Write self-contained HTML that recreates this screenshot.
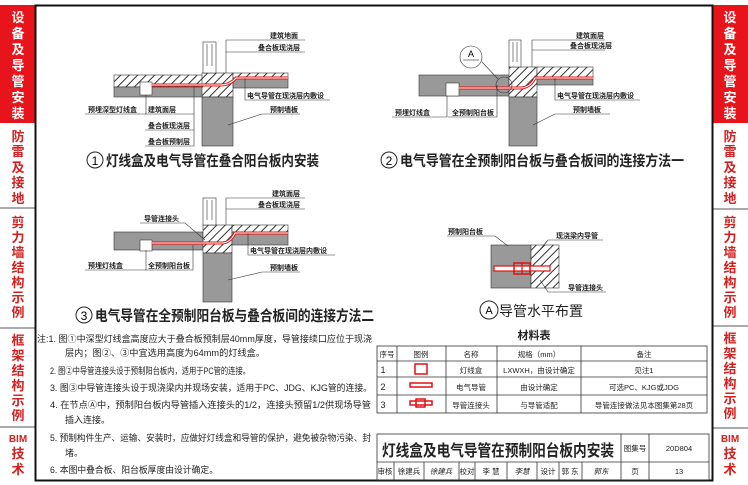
<!DOCTYPE html>
<html><head><meta charset="utf-8"><style>
body{margin:0;width:748px;height:485px;background:#fff;overflow:hidden;font-family:"Liberation Sans","Noto Sans CJK SC",sans-serif;}
svg{position:absolute;left:0;top:0}
</style></head><body>
<svg width="748" height="485" viewBox="0 0 748 485" xmlns="http://www.w3.org/2000/svg" font-family="Liberation Sans, Noto Sans CJK SC, sans-serif">
<defs>
<pattern id="h" width="6" height="6" patternUnits="userSpaceOnUse" patternTransform="rotate(45)">
<rect width="6" height="6" fill="#fff"/><line x1="0" y1="0" x2="0" y2="6" stroke="#333" stroke-width="2"/></pattern>
</defs>
<!-- sidebars -->
<rect x="0" y="5" width="35" height="118" fill="#e8141b"/>
<rect x="713" y="5" width="35" height="118" fill="#e8141b"/>
<g font-size="13" font-weight="bold" text-anchor="middle">
<g fill="#fff">
<text x="18" y="22">设</text><text x="18" y="38">备</text><text x="18" y="54">及</text><text x="18" y="70">导</text><text x="18" y="86">管</text><text x="18" y="102">安</text><text x="18" y="118">装</text>
<text x="730" y="22">设</text><text x="730" y="38">备</text><text x="730" y="54">及</text><text x="730" y="70">导</text><text x="730" y="86">管</text><text x="730" y="102">安</text><text x="730" y="118">装</text>
</g>
<g fill="#d42020">
<text x="18" y="141">防</text><text x="18" y="156">雷</text><text x="18" y="172">及</text><text x="18" y="187">接</text><text x="18" y="203">地</text>
<text x="730" y="141">防</text><text x="730" y="156">雷</text><text x="730" y="172">及</text><text x="730" y="187">接</text><text x="730" y="203">地</text>
<text x="18" y="227">剪</text><text x="18" y="242">力</text><text x="18" y="257">墙</text><text x="18" y="272">结</text><text x="18" y="287">构</text><text x="18" y="302">示</text><text x="18" y="317">例</text>
<text x="730" y="227">剪</text><text x="730" y="242">力</text><text x="730" y="257">墙</text><text x="730" y="272">结</text><text x="730" y="287">构</text><text x="730" y="302">示</text><text x="730" y="317">例</text>
<text x="18" y="345">框</text><text x="18" y="360">架</text><text x="18" y="375">结</text><text x="18" y="390">构</text><text x="18" y="405">示</text><text x="18" y="420">例</text>
<text x="730" y="343">框</text><text x="730" y="358">架</text><text x="730" y="373">结</text><text x="730" y="388">构</text><text x="730" y="403">示</text><text x="730" y="418">例</text>
<text x="18" y="442" font-size="10">BIM</text><text x="18" y="458">技</text><text x="18" y="474">术</text>
<text x="730" y="442" font-size="10">BIM</text><text x="730" y="458">技</text><text x="730" y="474">术</text>
</g>
</g>
<g stroke="#555" stroke-width="1">
<line x1="0" y1="208" x2="35" y2="208"/><line x1="0" y1="328" x2="35" y2="328"/><line x1="0" y1="427" x2="35" y2="427"/>
<line x1="713" y1="209" x2="748" y2="209"/><line x1="713" y1="326" x2="748" y2="326"/><line x1="713" y1="428" x2="748" y2="428"/>
</g>
<rect x="35.5" y="5.5" width="677" height="475" fill="none" stroke="#111" stroke-width="2"/>

<!-- Fig 1 -->
<g stroke="#333" stroke-width="0.6">
<rect x="114" y="75" width="89" height="12" fill="url(#h)"/>
<rect x="114" y="87" width="89" height="10" fill="#999"/>
<rect x="202" y="73" width="31" height="24" fill="url(#h)"/>
<rect x="202" y="97" width="31" height="49" fill="#999"/>
<rect x="233" y="73" width="55" height="5" fill="url(#h)"/>
<rect x="233" y="78" width="55" height="10" fill="#999"/>
<rect x="203" y="42" width="13" height="31" fill="#fff"/>
<line x1="207" y1="44" x2="207" y2="66"/><line x1="212" y1="44" x2="212" y2="66"/>
<rect x="140" y="82" width="12" height="13" fill="#fff"/>
</g>
<path d="M152 85 H220 Q230 85 236 78 H288" stroke="#e01010" stroke-width="3" fill="none"/>
<path d="M152 85 H220 Q230 85 236 78 H288" stroke="#fff" stroke-width="1" fill="none"/>
<g stroke="#333" stroke-width="0.6" fill="none">
<polyline points="226,73 226,40 305,40"/><line x1="226" y1="52" x2="305" y2="52"/>
<polyline points="245,78 245,100 330,100"/>
<line x1="228" y1="125" x2="262" y2="114"/><line x1="262" y1="114" x2="300" y2="114"/>
<polyline points="146,95 146,114 85,114"/>
<polyline points="194,87 194,146 145,146"/><line x1="145" y1="114" x2="194" y2="114"/><line x1="145" y1="130" x2="194" y2="130"/>
</g>
<g font-size="7" fill="#222" font-weight="bold">
<text x="270" y="38">建筑地面</text><text x="258" y="50">叠合板现浇层</text><text x="247" y="98">电气导管在现浇层内敷设</text>
<text x="270" y="112">预制墙板</text><text x="88" y="112">预埋深型灯线盒</text>
<text x="148" y="112">建筑面层</text><text x="148" y="128">叠合板现浇层</text><text x="148" y="144">叠合板预制层</text>
</g>
<circle cx="95" cy="160" r="8" fill="none" stroke="#222" stroke-width="1"/>
<text x="95" y="165" font-size="12" text-anchor="middle">1</text>
<text x="106" y="166" font-size="14.5" font-weight="bold" fill="#222" textLength="213" lengthAdjust="spacingAndGlyphs">灯线盒及电气导管在叠合阳台板内安装</text>

<!-- Fig 2 -->
<g stroke="#333" stroke-width="0.6">
<rect x="419" y="75" width="90" height="21" fill="#999"/>
<rect x="509" y="67" width="28" height="30" fill="url(#h)"/>
<rect x="509" y="97" width="28" height="49" fill="#999"/>
<rect x="537" y="67" width="56" height="10" fill="url(#h)"/>
<rect x="537" y="77" width="56" height="8" fill="#999"/>
<rect x="509" y="40" width="12" height="27" fill="#fff"/>
<line x1="513" y1="42" x2="513" y2="62"/><line x1="517" y1="42" x2="517" y2="62"/>
<rect x="446" y="83" width="13" height="13" fill="#fff"/>
</g>
<path d="M459 88 H520 Q530 88 535 78 H593" stroke="#e01010" stroke-width="3" fill="none"/>
<path d="M459 88 H520 Q530 88 535 78 H593" stroke="#fff" stroke-width="1" fill="none"/>
<g stroke="#333" stroke-width="0.6" fill="none">
<circle cx="471" cy="57" r="11"/><line x1="463" y1="60" x2="479" y2="60"/>
<circle cx="504" cy="85" r="8"/><line x1="482" y1="62" x2="498" y2="79"/>
<polyline points="532,67 532,40 605,40"/><line x1="532" y1="50" x2="605" y2="50"/>
<polyline points="555,78 555,100 640,100"/>
<line x1="533" y1="125" x2="555" y2="114"/><line x1="555" y1="114" x2="610" y2="114"/>
<polyline points="447,96 447,117 392,117"/><polyline points="497,85 497,117 448,117"/>
</g>
<g font-size="7" fill="#222" font-weight="bold">
<text x="576" y="38">建筑面层</text><text x="570" y="48">叠合板现浇层</text><text x="557" y="98">电气导管在现浇层内敷设</text>
<text x="573" y="112">预制墙板</text><text x="395" y="115">预埋灯线盒</text><text x="452" y="115">全预制阳台板</text>
</g>
<text x="471" y="57" font-size="9" text-anchor="middle">A</text>
<circle cx="389" cy="160" r="8" fill="none" stroke="#222" stroke-width="1"/>
<text x="389" y="165" font-size="12" text-anchor="middle">2</text>
<text x="400" y="166" font-size="14.5" font-weight="bold" fill="#222" textLength="284" lengthAdjust="spacingAndGlyphs">电气导管在全预制阳台板与叠合板间的连接方法一</text>

<!-- Fig 3 -->
<g stroke="#333" stroke-width="0.6">
<rect x="114" y="232" width="89" height="18" fill="#999"/>
<rect x="203" y="225" width="29" height="28" fill="url(#h)"/>
<rect x="203" y="253" width="29" height="49" fill="#999"/>
<rect x="232" y="225" width="56" height="7" fill="url(#h)"/>
<rect x="232" y="232" width="56" height="13" fill="#999"/>
<rect x="203" y="198" width="13" height="27" fill="#fff"/>
<line x1="207" y1="200" x2="207" y2="220"/><line x1="212" y1="200" x2="212" y2="220"/>
<rect x="140" y="240" width="12" height="11" fill="#fff"/>
</g>
<path d="M152 243 H222 Q230 243 235 233 H288" stroke="#e01010" stroke-width="3" fill="none"/>
<path d="M152 243 H222 Q230 243 235 233 H288" stroke="#fff" stroke-width="1" fill="none"/>
<g stroke="#333" stroke-width="0.6" fill="none">
<polyline points="226,225 226,198 305,198"/><line x1="226" y1="209" x2="305" y2="209"/>
<polyline points="248,233 248,255 335,255"/>
<line x1="228" y1="280" x2="262" y2="272"/><line x1="262" y1="272" x2="300" y2="272"/>
<polyline points="146,250 146,270 85,270"/><polyline points="193,245 193,270 145,270"/>
<polyline points="140,223 185,223 205,240"/>
</g>
<g font-size="7" fill="#222" font-weight="bold">
<text x="272" y="196">建筑面层</text><text x="258" y="207">叠合板现浇层</text><text x="250" y="253">电气导管在现浇层内敷设</text>
<text x="270" y="270">预制墙板</text><text x="88" y="268">预埋灯线盒</text><text x="148" y="268">全预制阳台板</text><text x="144" y="221">导管连接头</text>
</g>
<circle cx="84" cy="315" r="8" fill="none" stroke="#222" stroke-width="1"/>
<text x="84" y="320" font-size="12" text-anchor="middle">3</text>
<text x="95" y="321" font-size="14.5" font-weight="bold" fill="#222" textLength="279" lengthAdjust="spacingAndGlyphs">电气导管在全预制阳台板与叠合板间的连接方法二</text>

<!-- Fig A -->
<g stroke="#333" stroke-width="0.6">
<rect x="491" y="245" width="40" height="43" fill="#999"/>
<rect x="531" y="245" width="28" height="43" fill="url(#h)"/>
<rect x="494" y="266" width="56" height="5" fill="#fff" stroke="#e01010" stroke-width="1.2"/>
<rect x="514" y="263" width="16" height="11" fill="none" stroke="#e01010" stroke-width="1.5"/>
<line x1="522" y1="263" x2="522" y2="274" stroke="#e01010" stroke-width="1.2"/>
</g>
<g stroke="#333" stroke-width="0.6" fill="none">
<polyline points="447,236 495,236 508,246"/><polyline points="548,240 555,240 603,240"/><line x1="548" y1="240" x2="538" y2="252"/>
<polyline points="540,280 548,292 606,292"/>
</g>
<g font-size="7" fill="#222" font-weight="bold">
<text x="448" y="234">预制阳台板</text><text x="556" y="238">现浇梁内导管</text><text x="568" y="290">导管连接头</text>
</g>
<circle cx="489" cy="310" r="9" fill="none" stroke="#222" stroke-width="1"/>
<text x="489" y="314" font-size="11" text-anchor="middle">A</text>
<text x="499" y="316" font-size="14" fill="#222">导管水平布置</text>

<!-- Notes -->
<g font-size="9" fill="#222">
<text x="37" y="342" textLength="335" lengthAdjust="spacingAndGlyphs">注:1. 图①中深型灯线盒高度应大于叠合板预制层40mm厚度，导管接续口应位于现浇</text>
<text x="65" y="356" textLength="200" lengthAdjust="spacingAndGlyphs">层内；图②、③中宜选用高度为64mm的灯线盒。</text>
<text x="50" y="374" textLength="200" lengthAdjust="spacingAndGlyphs">2. 图②中导管连接头设于预制阳台板内，适用于PC管的连接。</text>
<text x="50" y="391" textLength="322" lengthAdjust="spacingAndGlyphs">3. 图③中导管连接头设于现浇梁内并现场安装，适用于PC、JDG、KJG管的连接。</text>
<text x="50" y="408" textLength="321" lengthAdjust="spacingAndGlyphs">4. 在节点Ⓐ中，预制阳台板内导管插入连接头的1/2，连接头预留1/2供现场导管</text>
<text x="65" y="423">插入连接。</text>
<text x="50" y="441" textLength="321" lengthAdjust="spacingAndGlyphs">5. 预制构件生产、运输、安装时，应做好灯线盒和导管的保护，避免被杂物污染、封</text>
<text x="65" y="456">堵。</text>
<text x="50" y="473" textLength="168" lengthAdjust="spacingAndGlyphs">6. 本图中叠合板、阳台板厚度由设计确定。</text>
</g>

<!-- Table -->
<text x="534" y="339" font-size="11" font-weight="bold" text-anchor="middle" fill="#222">材料表</text>
<g stroke="#333" stroke-width="0.8" fill="none">
<rect x="377" y="346" width="330" height="67"/>
<line x1="377" y1="361" x2="707" y2="361"/><line x1="377" y1="377" x2="707" y2="377"/><line x1="377" y1="395" x2="707" y2="395"/>
<line x1="397" y1="346" x2="397" y2="413"/><line x1="446" y1="346" x2="446" y2="413"/><line x1="497" y1="346" x2="497" y2="413"/><line x1="581" y1="346" x2="581" y2="413"/>
</g>
<g font-size="7.5" fill="#222" text-anchor="middle">
<text x="387" y="357">序号</text><text x="421" y="357">图例</text><text x="471" y="357">名称</text><text x="539" y="357">规格（mm）</text><text x="644" y="357">备注</text>
<text x="383" y="373" font-size="9">1</text><text x="471" y="373">灯线盒</text><text x="539" y="373">LXWXH，由设计确定</text><text x="644" y="373">见注1</text>
<text x="383" y="390" font-size="9">2</text><text x="471" y="390">电气导管</text><text x="539" y="390">由设计确定</text><text x="644" y="390">可选PC、KJG或JDG</text>
<text x="383" y="408" font-size="9">3</text><text x="471" y="408">导管连接头</text><text x="539" y="408">与导管适配</text><text x="644" y="408">导管连接做法见本图集第28页</text>
</g>
<g stroke="#e01010" stroke-width="1.5" fill="none">
<rect x="415" y="364" width="12" height="10"/>
<rect x="410" y="383" width="22" height="4"/>
<rect x="410" y="401" width="22" height="4"/><rect x="416" y="399" width="9" height="8"/>
</g>

<!-- Title block -->
<g stroke="#333" stroke-width="0.8" fill="none">
<rect x="377" y="434" width="332" height="46"/>
<line x1="377" y1="462" x2="709" y2="462"/>
<line x1="621" y1="434" x2="621" y2="480"/><line x1="649" y1="434" x2="649" y2="480"/>
<line x1="394" y1="462" x2="394" y2="480"/><line x1="424" y1="462" x2="424" y2="480"/><line x1="459" y1="462" x2="459" y2="480"/><line x1="475" y1="462" x2="475" y2="480"/><line x1="507" y1="462" x2="507" y2="480"/><line x1="537" y1="462" x2="537" y2="480"/><line x1="559" y1="462" x2="559" y2="480"/><line x1="582" y1="462" x2="582" y2="480"/>
</g>
<text x="382" y="456" font-size="16" font-weight="bold" fill="#222" textLength="232" lengthAdjust="spacingAndGlyphs">灯线盒及电气导管在预制阳台板内安装</text>
<g font-size="7.5" fill="#222" text-anchor="middle">
<text x="635" y="451">图集号</text><text x="679" y="451">20D804</text>
<text x="385" y="474">审核</text><text x="409" y="474">徐建兵</text><text x="441" y="474" font-style="italic">徐建兵</text><text x="467" y="474">校对</text><text x="491" y="474">李  慧</text><text x="522" y="474" font-style="italic">李慧</text><text x="548" y="474">设计</text><text x="570" y="474">郭  东</text><text x="601" y="474" font-style="italic">郭东</text><text x="635" y="474">页</text><text x="679" y="474">13</text>
</g>
</svg>
</body></html>
